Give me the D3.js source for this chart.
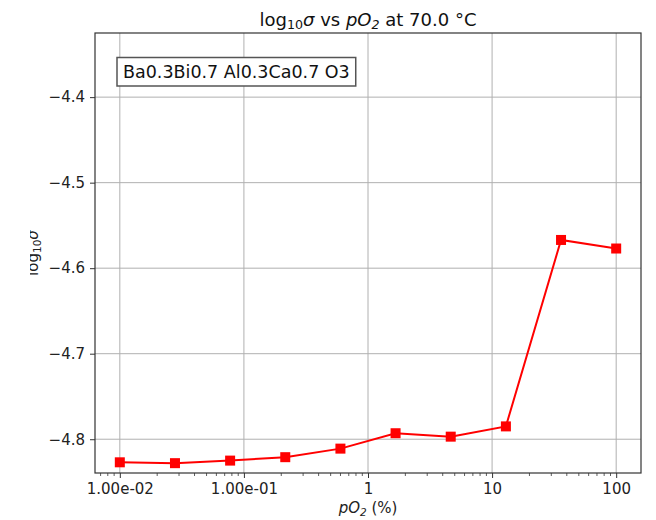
<!DOCTYPE html>
<html>
<head>
<meta charset="utf-8">
<script src="https://cdn.jsdelivr.net/npm/d3@7"></script>
<style>
  html, body { margin: 0; padding: 0; background: #fff; }
  svg { display: block; font-family: "DejaVu Sans", sans-serif; }
</style>
</head>
<body>
<svg id="chart" width="656" height="520"></svg>
<script>
// ---- data ----
const pO2 = [0.01, 0.02783, 0.07743, 0.2154, 0.5995, 1.668, 4.642, 12.92, 35.94, 100];
const logSigma = [-4.827, -4.828, -4.825, -4.821, -4.811, -4.793, -4.797, -4.785, -4.567, -4.577];
const xTickValues = [0.01, 0.1, 1, 10, 100];
const xTickLabels = ["1.00e-02", "1.00e-01", "1", "10", "100"];
const yTickValues = [-4.4, -4.5, -4.6, -4.7, -4.8];
const yTickLabels = ["\u22124.4", "\u22124.5", "\u22124.6", "\u22124.7", "\u22124.8"];
const legendText = "Ba0.3Bi0.7 Al0.3Ca0.7 O3";

// ---- layout ----
const L = 95, R = 641, T = 33, B = 473;
const svg = d3.select("#chart");
svg.append("rect").attr("width", 656).attr("height", 520).attr("fill", "#fff");

const x = d3.scaleLog().domain([Math.pow(10, -2.2), Math.pow(10, 2.2)]).range([L, R]);
const y = d3.scaleLinear().domain([-4.8395, -4.325]).range([B, T]);

// grid
const grid = svg.append("g");
grid.selectAll("line.gx").data(xTickValues).join("line")
  .attr("x1", d => x(d)).attr("x2", d => x(d)).attr("y1", T).attr("y2", B)
  .attr("stroke", "#b0b0b0").attr("stroke-width", 1);
grid.selectAll("line.gy").data(yTickValues).join("line")
  .attr("y1", d => y(d)).attr("y2", d => y(d)).attr("x1", L).attr("x2", R)
  .attr("stroke", "#b0b0b0").attr("stroke-width", 1);

// minor x ticks
const minor = [];
for (let e = -3; e <= 2; e++) for (let m = 2; m <= 9; m++) {
  const v = m * Math.pow(10, e);
  if (v > x.domain()[0] && v < x.domain()[1]) minor.push(v);
}
svg.append("g").selectAll("line").data(minor).join("line")
  .attr("x1", d => x(d)).attr("x2", d => x(d)).attr("y1", B).attr("y2", B + 3)
  .attr("stroke", "#333").attr("stroke-width", 0.8);

// x axis
const xAxis = d3.axisBottom(x).tickValues(xTickValues)
  .tickFormat((d, i) => xTickLabels[i]).tickSize(5).tickPadding(5);
const gx = svg.append("g").attr("transform", `translate(0,${B})`).call(xAxis);
gx.select(".domain").remove();
gx.selectAll("line").attr("stroke", "#333").attr("stroke-width", 1);
gx.selectAll("text").attr("font-size", 15).attr("font-family", "DejaVu Sans").attr("fill", "#222");

// y axis
const yAxis = d3.axisLeft(y).tickValues(yTickValues)
  .tickFormat((d, i) => yTickLabels[i]).tickSize(5).tickPadding(5);
const gy = svg.append("g").attr("transform", `translate(${L},0)`).call(yAxis);
gy.select(".domain").remove();
gy.selectAll("line").attr("stroke", "#333").attr("stroke-width", 1);
gy.selectAll("text").attr("font-size", 15).attr("font-family", "DejaVu Sans").attr("fill", "#222");

// data line + markers
const pts = pO2.map((v, i) => [v, logSigma[i]]);
svg.append("path").datum(pts)
  .attr("fill", "none").attr("stroke", "#ff0000").attr("stroke-width", 2)
  .attr("d", d3.line().x(d => x(d[0])).y(d => y(d[1])));
const ms = 10;
svg.append("g").selectAll("rect").data(pts).join("rect")
  .attr("x", d => x(d[0]) - ms / 2).attr("y", d => y(d[1]) - ms / 2)
  .attr("width", ms).attr("height", ms).attr("fill", "#ff0000");

// frame
svg.append("rect").attr("x", L).attr("y", T).attr("width", R - L).attr("height", B - T)
  .attr("fill", "none").attr("stroke", "#333").attr("stroke-width", 1.2);

// legend text box
const lg = svg.append("g");
const lt = lg.append("text").attr("x", 123).attr("y", 78)
  .attr("font-size", 17.5).attr("fill", "#111").text(legendText);
const bb = lt.node().getBBox();
lg.insert("rect", "text").attr("x", bb.x - 6).attr("y", 57.5)
  .attr("width", bb.width + 12).attr("height", 28.5)
  .attr("fill", "#fff").attr("stroke", "#555").attr("stroke-width", 1.5);

// title
const title = svg.append("text").attr("x", (L + R) / 2).attr("y", 26)
  .attr("text-anchor", "middle").attr("font-size", 18).attr("fill", "#111");
title.append("tspan").text("log");
title.append("tspan").attr("font-size", 12.6).attr("dy", 3).text("10");
title.append("tspan").attr("font-style", "italic").attr("dy", -3).text("\u03c3");
title.append("tspan").text(" vs ");
title.append("tspan").attr("font-style", "italic").text("pO");
title.append("tspan").attr("font-size", 12.6).attr("dy", 3).attr("font-style", "italic").text("2");
title.append("tspan").attr("dy", -3).text(" at 70.0 \u00b0C");

// x label
const xl = svg.append("text").attr("x", (L + R) / 2).attr("y", 513)
  .attr("text-anchor", "middle").attr("font-size", 15).attr("fill", "#222");
xl.append("tspan").attr("font-style", "italic").text("pO");
xl.append("tspan").attr("font-size", 10.5).attr("dy", 3).attr("font-style", "italic").text("2");
xl.append("tspan").attr("dy", -3).text(" (%)");

// y label (clipped on the left like the reference)
svg.append("clipPath").attr("id", "ylc").append("rect")
  .attr("x", 30).attr("y", 0).attr("width", 60).attr("height", 520);
const ylg = svg.append("g").attr("clip-path", "url(#ylc)");
const ylt = ylg.append("text").attr("transform", `translate(38,${(T + B) / 2}) rotate(-90)`)
  .attr("text-anchor", "middle").attr("font-size", 15).attr("fill", "#222");
ylt.append("tspan").text("log");
ylt.append("tspan").attr("font-size", 10.5).attr("dy", 3).text("10");
ylt.append("tspan").attr("font-style", "italic").attr("dy", -3).text("\u03c3");
</script>
</body>
</html>
